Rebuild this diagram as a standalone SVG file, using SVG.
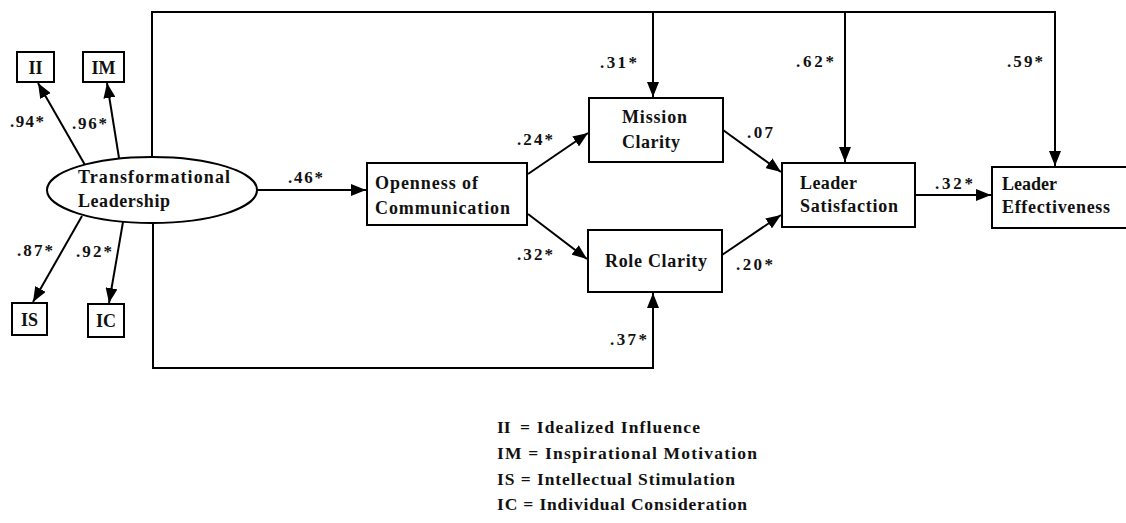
<svg xmlns="http://www.w3.org/2000/svg" width="1126" height="523" viewBox="0 0 1126 523">
<style>
text{font-family:"Liberation Serif","Times New Roman","DejaVu Serif",serif;font-weight:bold;fill:#111}
.box{fill:#fff;stroke:#000;stroke-width:2}
.t{font-size:18px}
.c{font-size:17px}
.lg{font-size:17.5px}
.ln{fill:none;stroke:#000;stroke-width:2}
</style>
<defs>
<marker id="ah" markerUnits="userSpaceOnUse" markerWidth="16" markerHeight="12" refX="15" refY="6" orient="auto">
<path d="M0,0 L15,6 L0,12 z" fill="#000"/>
</marker>
</defs>
<rect width="1126" height="523" fill="#fff"/>

<g id="connectors">
<path class="ln" d="M152,157 V12 H1055 V166" marker-end="url(#ah)"/>
<path class="ln" d="M653,12 V97" marker-end="url(#ah)"/>
<path class="ln" d="M845,12 V162" marker-end="url(#ah)"/>
<path class="ln" d="M153,223 V368 H653 V293" marker-end="url(#ah)"/>
<path class="ln" d="M85,165 L38,83" marker-end="url(#ah)"/>
<path class="ln" d="M119,158 L107,83" marker-end="url(#ah)"/>
<path class="ln" d="M82,216 L33,302" marker-end="url(#ah)"/>
<path class="ln" d="M123,222 L109,303" marker-end="url(#ah)"/>
<path class="ln" d="M257,190 H366" marker-end="url(#ah)"/>
<path class="ln" d="M528,174 L588,133" marker-end="url(#ah)"/>
<path class="ln" d="M528,214 L587,259" marker-end="url(#ah)"/>
<path class="ln" d="M723,130 L781,172" marker-end="url(#ah)"/>
<path class="ln" d="M722,255 L781,215" marker-end="url(#ah)"/>
<path class="ln" d="M915,195 H991" marker-end="url(#ah)"/>
<path class="ln" d="M1118,208 H1126"/>
<text class="c" x="10" y="127" textLength="34" lengthAdjust="spacing">.94*</text>
<text class="c" x="72" y="129" textLength="35" lengthAdjust="spacing">.96*</text>
<text class="c" x="17" y="256" textLength="36" lengthAdjust="spacing">.87*</text>
<text class="c" x="76" y="257" textLength="36" lengthAdjust="spacing">.92*</text>
<text class="c" x="288" y="183" textLength="35" lengthAdjust="spacing">.46*</text>
<text class="c" x="600" y="68" textLength="37" lengthAdjust="spacing">.31*</text>
<text class="c" x="517" y="145" textLength="36" lengthAdjust="spacing">.24*</text>
<text class="c" x="517" y="260" textLength="36" lengthAdjust="spacing">.32*</text>
<text class="c" x="610" y="345" textLength="37" lengthAdjust="spacing">.37*</text>
<text class="c" x="747" y="138" textLength="26" lengthAdjust="spacing">.07</text>
<text class="c" x="736" y="270" textLength="37" lengthAdjust="spacing">.20*</text>
<text class="c" x="796" y="67" textLength="38" lengthAdjust="spacing">.62*</text>
<text class="c" x="1007" y="67" textLength="36" lengthAdjust="spacing">.59*</text>
<text class="c" x="935" y="189" textLength="38" lengthAdjust="spacing">.32*</text>
</g>

<g id="node-tl">
<ellipse cx="152" cy="190" rx="105" ry="33" class="box"/>
<text class="t" x="78" y="183" textLength="152" lengthAdjust="spacing">Transformational</text>
<text class="t" x="78" y="207" textLength="92" lengthAdjust="spacing">Leadership</text>
</g>
<g id="node-ii">
<rect x="17" y="52" width="37" height="30" class="box"/>
<text class="t" x="35.5" y="74" text-anchor="middle">II</text>
</g>
<g id="node-im">
<rect x="83" y="52" width="41" height="30" class="box"/>
<text class="t" x="103.5" y="74" text-anchor="middle">IM</text>
</g>
<g id="node-is">
<rect x="12" y="303" width="35" height="32" class="box"/>
<text class="t" x="29.5" y="326" text-anchor="middle">IS</text>
</g>
<g id="node-ic">
<rect x="88" y="304" width="36" height="33" class="box"/>
<text class="t" x="106" y="327" text-anchor="middle">IC</text>
</g>
<g id="node-oc">
<rect x="367" y="163" width="160" height="62" class="box"/>
<text class="t" x="375" y="189" textLength="103" lengthAdjust="spacing">Openness of</text>
<text class="t" x="375" y="214" textLength="135" lengthAdjust="spacing">Communication</text>
</g>
<g id="node-mc">
<rect x="589" y="98" width="134" height="64" class="box"/>
<text class="t" x="622" y="123" textLength="65" lengthAdjust="spacing">Mission</text>
<text class="t" x="622" y="148" textLength="58" lengthAdjust="spacing">Clarity</text>
</g>
<g id="node-rc">
<rect x="588" y="230" width="134" height="62" class="box"/>
<text class="t" x="605" y="267" textLength="102" lengthAdjust="spacing">Role Clarity</text>
</g>
<g id="node-ls">
<rect x="782" y="163" width="133" height="64" class="box"/>
<text class="t" x="800" y="189" textLength="57" lengthAdjust="spacing">Leader</text>
<text class="t" x="800" y="212" textLength="98" lengthAdjust="spacing">Satisfaction</text>
</g>
<g id="node-le">
<rect x="992" y="167" width="140" height="61" class="box"/>
<text class="t" x="1002" y="190" textLength="55" lengthAdjust="spacing">Leader</text>
<text class="t" x="1002" y="213" textLength="108" lengthAdjust="spacing">Effectiveness</text>
</g>

<g id="legend">
<text class="lg" x="497" y="433">II</text>
<text class="lg" x="520" y="433" textLength="180" lengthAdjust="spacing">= Idealized Influence</text>
<text class="lg" x="497" y="459" textLength="260" lengthAdjust="spacing">IM = Inspirational Motivation</text>
<text class="lg" x="497" y="485" textLength="238" lengthAdjust="spacing">IS = Intellectual Stimulation</text>
<text class="lg" x="497" y="510" textLength="250" lengthAdjust="spacing">IC = Individual Consideration</text>
</g>
</svg>
